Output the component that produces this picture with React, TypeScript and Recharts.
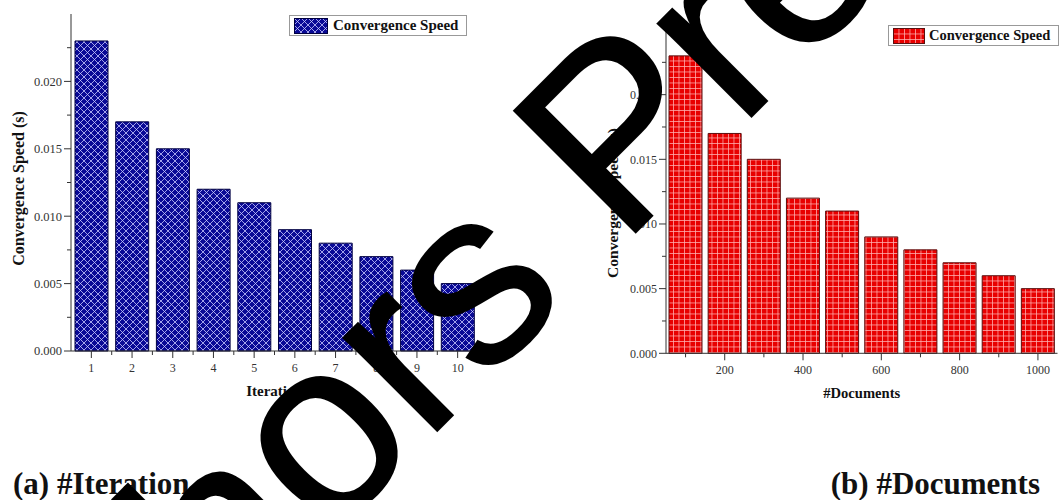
import React from 'react';
import { BarChart, Bar, XAxis, YAxis, Legend } from 'recharts';

const iterationLabels = [1, 2, 3, 4, 5, 6, 7, 8, 9, 10];
const iterationSpeeds = [0.023, 0.017, 0.015, 0.012, 0.011, 0.009, 0.008, 0.007, 0.006, 0.005];
const documentCounts = [100, 200, 300, 400, 500, 600, 700, 800, 900, 1000];
const documentSpeeds = [0.023, 0.017, 0.015, 0.012, 0.011, 0.009, 0.008, 0.007, 0.006, 0.005];
const yMajorTicks = [0, 0.005, 0.01, 0.015, 0.02];
const yMinorTicks = [0.0025, 0.0075, 0.0125, 0.0175, 0.0225];
const iterationMajorTicks = [1, 2, 3, 4, 5, 6, 7, 8, 9, 10];
const iterationMinorTicks = [1.5, 2.5, 3.5, 4.5, 5.5, 6.5, 7.5, 8.5, 9.5];
const documentMajorTicks = [200, 400, 600, 800, 1000];
const documentMinorTicks = [100, 300, 500, 700, 900];
const seriesName = 'Convergence Speed';
const yTitle = 'Convergence Speed (s)';
const leftXTitle = 'Iteration';
const rightXTitle = '#Documents';
const captionA = '(a) #Iteration';
const captionB = '(b) #Documents';
const watermarkText = 'Authors Preprint';

const iterationData = iterationLabels.map((x, i) => ({ x, speed: iterationSpeeds[i] }));
const documentData = documentCounts.map((x, i) => ({ x, speed: documentSpeeds[i] }));
const yTicks = [...yMajorTicks, ...yMinorTicks].sort((a, b) => a - b);
const iterTicks = [...iterationMajorTicks, ...iterationMinorTicks].sort((a, b) => a - b);
const docTicks = [...documentMajorTicks, ...documentMinorTicks].sort((a, b) => a - b);

const serif = '"Liberation Serif", "Times New Roman", serif';
const sans = '"Liberation Sans", Arial, sans-serif';
const axisColor = '#333';

function makeYTick(majors: number[], fontSize: number) {
  return (props: any) => {
    const { x, y, payload } = props;
    const major = majors.includes(payload.value);
    return (
      <g>
        <line x1={x} x2={x - (major ? 7 : 4)} y1={y} y2={y} stroke={axisColor} strokeWidth={1} />
        {major && (
          <text x={x - 9} y={y} dy="0.35em" textAnchor="end" fontSize={fontSize} fontFamily={serif} fill="#333">
            {Number(payload.value).toFixed(3)}
          </text>
        )}
      </g>
    );
  };
}

function makeXTick(majors: number[], fontSize: number) {
  return (props: any) => {
    const { x, y, payload } = props;
    const major = majors.includes(payload.value);
    return (
      <g>
        <line x1={x} x2={x} y1={y} y2={y + (major ? 7 : 4)} stroke={axisColor} strokeWidth={1} />
        {major && (
          <text x={x} y={y + 21} textAnchor="middle" fontSize={fontSize} fontFamily={serif} fill="#333">
            {payload.value}
          </text>
        )}
      </g>
    );
  };
}

function BluePattern({ id }: { id: string }) {
  return (
    <pattern id={id} patternUnits="userSpaceOnUse" width={7} height={7}>
      <rect width={7} height={7} fill="#0a0a96" />
      <path d="M0,0 L7,7 M7,0 L0,7" stroke="#c9c9ff" strokeWidth={0.8} />
    </pattern>
  );
}

function RedPattern({ id }: { id: string }) {
  return (
    <pattern id={id} patternUnits="userSpaceOnUse" width={5.5} height={5.5}>
      <rect width={5.5} height={5.5} fill="#e80000" />
      <path d="M0,0.4 L5.5,0.4 M0.4,0 L0.4,5.5" stroke="#ffb0b0" strokeWidth={0.8} />
    </pattern>
  );
}

function LegendBox({ kind, swatchW, fontSize, textGap }: { kind: 'blue' | 'red'; swatchW: number; fontSize: number; textGap: number }) {
  const pid = kind === 'blue' ? 'legBlue' : 'legRed';
  return (
    <div
      style={{
        display: 'flex',
        alignItems: 'center',
        border: '1px solid #999',
        background: '#fff',
        padding: '1px 8px 1px 4px',
        whiteSpace: 'nowrap',
        boxSizing: 'content-box',
      }}
    >
      <svg width={swatchW} height={16} style={{ display: 'block' }}>
        <defs>{kind === 'blue' ? <BluePattern id={pid} /> : <RedPattern id={pid} />}</defs>
        <rect x={0.5} y={0.5} width={swatchW - 1} height={15} fill={`url(#${pid})`} stroke={kind === 'blue' ? '#000040' : '#5a1010'} />
      </svg>
      <span style={{ marginLeft: textGap, fontFamily: serif, fontWeight: 'bold', fontSize, color: '#111', lineHeight: '17px' }}>
        {seriesName}
      </span>
    </div>
  );
}

export default function App() {
  return (
    <div style={{ position: 'absolute', left: 0, top: 0, width: 1059, height: 500, overflow: 'hidden', background: '#fff' }}>
      <div style={{ position: 'absolute', left: 0, top: 0 }}>
        <BarChart width={530} height={420} data={iterationData} margin={{ top: 14, right: 52, bottom: 0, left: 0 }}>
          <defs>
            <BluePattern id="hatchBlue" />
          </defs>
          <XAxis
            dataKey="x"
            type="number"
            domain={[0.5, 10.5]}
            ticks={iterTicks}
            interval={0}
            height={69}
            tickSize={0}
            tickMargin={0}
            tickLine={false}
            axisLine={{ stroke: axisColor, strokeWidth: 1 }}
            tick={makeXTick(iterationMajorTicks, 12)}
            label={(p: any) => {
              const vb = p.viewBox;
              return (
                <text x={vb.x + vb.width / 2} y={vb.y + 45} textAnchor="middle" fontFamily={serif} fontWeight="bold" fontSize={15} fill="#111">
                  {leftXTitle}
                </text>
              );
            }}
          />
          <YAxis
            type="number"
            domain={[0, 0.025]}
            ticks={yTicks}
            interval={0}
            width={71}
            tickSize={0}
            tickMargin={0}
            tickLine={false}
            axisLine={{ stroke: axisColor, strokeWidth: 1 }}
            tick={makeYTick(yMajorTicks, 12.5)}
            label={(p: any) => {
              const vb = p.viewBox;
              const cx = vb.x + 18;
              const cy = 188.5;
              return (
                <text x={cx} y={cy} transform={`rotate(-90 ${cx} ${cy})`} textAnchor="middle" dy="0.35em" fontFamily={serif} fontWeight="bold" fontSize={16} fill="#111">
                  {yTitle}
                </text>
              );
            }}
          />
          <Legend
            layout="horizontal"
            verticalAlign="middle"
            align="center"
            wrapperStyle={{ left: 289, top: 15, width: 'auto', height: 'auto' }}
            content={() => <LegendBox kind="blue" swatchW={34} fontSize={15} textGap={5} />}
          />
          <Bar dataKey="speed" name={seriesName} fill="url(#hatchBlue)" stroke="#000040" strokeWidth={1} barSize={33} isAnimationActive={false} />
        </BarChart>
      </div>
      <div style={{ position: 'absolute', left: 530, top: 0 }}>
        <BarChart width={529} height={420} data={documentData} margin={{ top: 30, right: 1.5, bottom: 0, left: 0 }}>
          <defs>
            <RedPattern id="gridRed" />
          </defs>
          <XAxis
            dataKey="x"
            type="number"
            domain={[50, 1050]}
            ticks={docTicks}
            interval={0}
            height={66.7}
            tickSize={0}
            tickMargin={0}
            tickLine={false}
            axisLine={{ stroke: axisColor, strokeWidth: 1 }}
            tick={makeXTick(documentMajorTicks, 12)}
            label={(p: any) => {
              const vb = p.viewBox;
              return (
                <text x={vb.x + vb.width / 2} y={vb.y + 45} textAnchor="middle" fontFamily={serif} fontWeight="bold" fontSize={14.6} fill="#111">
                  {rightXTitle}
                </text>
              );
            }}
          />
          <YAxis
            type="number"
            domain={[0, 0.025]}
            ticks={yTicks}
            interval={0}
            width={136}
            tickSize={0}
            tickMargin={0}
            tickLine={false}
            axisLine={{ stroke: axisColor, strokeWidth: 1 }}
            tick={makeYTick(yMajorTicks, 12)}
            label={(p: any) => {
              const vb = p.viewBox;
              const cx = vb.x + 83;
              const cy = 203;
              return (
                <text x={cx} y={cy} transform={`rotate(-90 ${cx} ${cy})`} textAnchor="middle" dy="0.35em" fontFamily={serif} fontWeight="bold" fontSize={15.5} fill="#111">
                  {yTitle}
                </text>
              );
            }}
          />
          <Legend
            layout="horizontal"
            verticalAlign="middle"
            align="center"
            wrapperStyle={{ left: 358, top: 25, width: 'auto', height: 'auto' }}
            content={() => <LegendBox kind="red" swatchW={32} fontSize={14.5} textGap={4} />}
          />
          <Bar dataKey="speed" name={seriesName} fill="url(#gridRed)" stroke="#5a1010" strokeWidth={1} barSize={33} isAnimationActive={false} />
        </BarChart>
      </div>
      <svg width={1059} height={500} style={{ position: 'absolute', left: 0, top: 0, pointerEvents: 'none' }}>
        <text x={13} y={494} fontFamily={serif} fontWeight="bold" fontSize={31} fill="#111">
          {captionA}
        </text>
        <text x={1040} y={494} textAnchor="end" fontFamily={serif} fontWeight="bold" fontSize={31} fill="#111">
          {captionB}
        </text>
        <text x={-37} y={905} transform="rotate(-45 -37 905)" fontFamily={sans} fontSize={250} stroke="#000" strokeWidth={2} fill="#000">
          {watermarkText}
        </text>
      </svg>
    </div>
  );
}
